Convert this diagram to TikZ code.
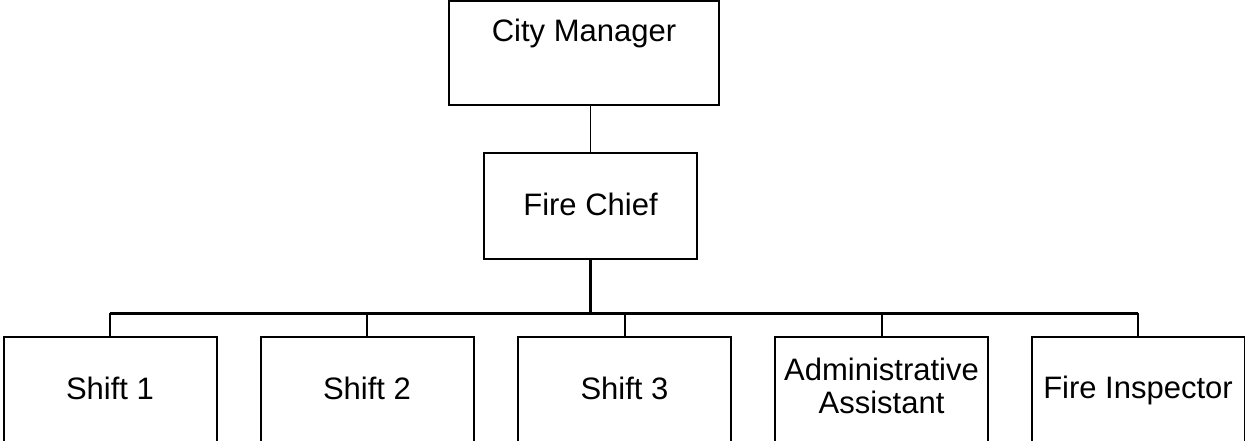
\documentclass[tikz,border=0pt]{standalone}
\usepackage{fontspec}
\setmainfont{Liberation Sans}
\begin{document}
\begin{tikzpicture}[x=1pt,y=-1pt,
  box/.style={draw=black,line width=2pt,minimum width=213pt,minimum height=130pt,inner sep=0pt,anchor=north},
  lbl/.style={font=\fontsize{31}{33}\selectfont,align=center,inner sep=0pt},
  thin/.style={line width=1pt},
  med/.style={line width=2pt},
  bus/.style={line width=3pt}]
\useasboundingbox (0,0) rectangle (1245,440);
\clip (0,0) rectangle (1245,440);
% top boxes
\node[draw=black,line width=1.3pt,minimum width=270pt,minimum height=104pt,inner sep=0pt] (cm) at (584,53) {};
\node[lbl] (cmt) at (584,33) {City Manager};
\node[draw=black,line width=2pt,minimum width=213pt,minimum height=106pt,inner sep=0pt] (fc) at (590.5,206) {};
\node[lbl] (fct) at (590.5,204) {Fire Chief};
\coordinate (cmb) at (590,105);
\draw[thin] (cmb) -- (cmb |- fc.north);
% bus
\coordinate (j) at (590,313);
\coordinate (bl) at (110,313);
\coordinate (br) at (1138,313);
\draw[bus] (fc.south -| j) -- (j);
\draw[bus] (bl) -- (br);
% bottom boxes
\node[box] (s1) at (110,336) {};
\node[box] (s2) at (367,336) {};
\node[box] (s3) at (624.5,336) {};
\node[box] (aa) at (881.5,336) {};
\node[box] (fi) at (1138,336) {};
\foreach \n in {s1,s2,s3,aa,fi}{
  \draw[med] (\n.north) -- (\n.north |- bl);
}
\node[lbl] (s1t) at (110,388) {Shift 1};
\node[lbl] (s2t) at (367,388) {Shift 2};
\node[lbl] (s3t) at (624.5,388) {Shift 3};
\node[lbl] (aat) at (881.5,386) {Administrative\\Assistant};
\node[lbl] (fit) at (1138,390) {Fire Inspector};
\end{tikzpicture}
\end{document}
